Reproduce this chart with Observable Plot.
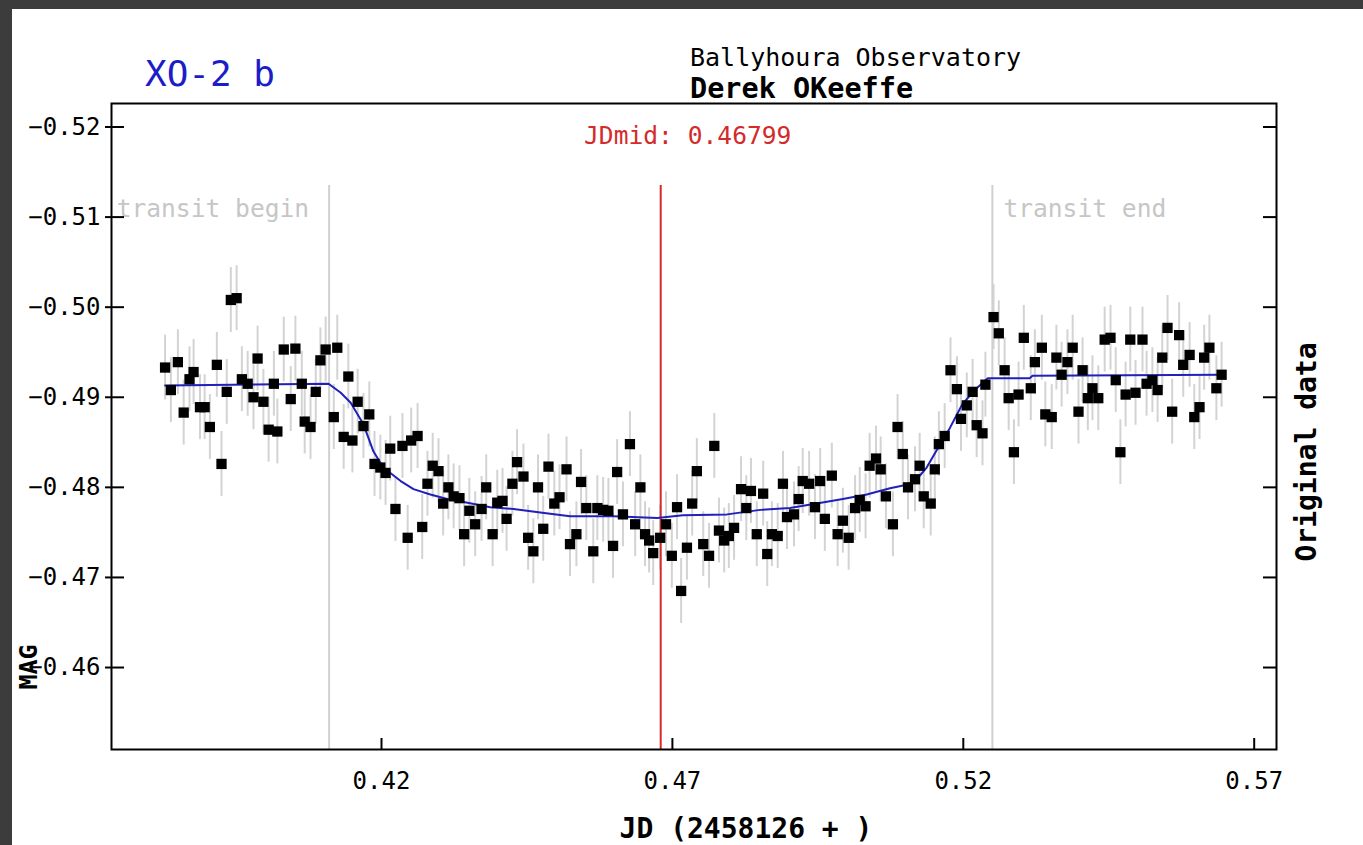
<!DOCTYPE html>
<html><head><meta charset="utf-8">
<script src="https://cdn.jsdelivr.net/npm/d3@7"></script>
<script src="https://cdn.jsdelivr.net/npm/@observablehq/plot@0.6"></script>
<style>
html,body{margin:0;padding:0;background:#fff;overflow:hidden;}
#chart{width:1363px;height:845px;}
</style></head><body><div id="chart"></div>
<script>
// observation times (JD - 2458126)
const jd = [
0.3828,0.3838,0.3850,0.3860,0.3870,0.3877,0.3888,0.3896,0.3905,0.3917,
0.3925,0.3934,0.3941,0.3951,0.3960,0.3970,0.3980,0.3987,0.3997,0.4006,
0.4015,0.4021,0.4032,0.4044,0.4052,0.4063,0.4068,0.4078,0.4087,0.4095,
0.4104,0.4118,0.4124,0.4135,0.4143,0.4150,0.4159,0.4169,0.4179,0.4188,
0.4198,0.4207,0.4215,0.4224,0.4236,0.4245,0.4251,0.4262,0.4270,0.4279,
0.4288,0.4298,0.4306,0.4315,0.4324,0.4334,0.4342,0.4351,0.4361,0.4372,
0.4380,0.4391,0.4399,0.4408,0.4415,0.4425,0.4433,0.4444,0.4452,0.4461,
0.4469,0.4478,0.4487,0.4497,0.4506,0.4518,0.4524,0.4535,0.4543,0.4552,
0.4564,0.4571,0.4581,0.4590,0.4598,0.4605,0.4615,0.4627,0.4636,0.4645,
0.4653,0.4660,0.4667,0.4679,0.4689,0.4699,0.4708,0.4715,0.4725,0.4734,
0.4742,0.4753,0.4763,0.4772,0.4780,0.4789,0.4797,0.4806,0.4818,0.4827,
0.4835,0.4845,0.4856,0.4863,0.4871,0.4881,0.4890,0.4897,0.4909,0.4917,
0.4924,0.4935,0.4945,0.4954,0.4962,0.4974,0.4984,0.4993,0.5003,0.5014,
0.5022,0.5032,0.5039,0.5050,0.5058,0.5067,0.5079,0.5087,0.5096,0.5105,
0.5117,0.5125,0.5132,0.5144,0.5151,0.5158,0.5168,0.5178,0.5189,0.5196,
0.5206,0.5216,0.5223,0.5233,0.5238,0.5252,0.5261,0.5271,0.5278,0.5287,
0.5295,0.5304,0.5316,0.5323,0.5335,0.5341,0.5352,0.5360,0.5369,0.5379,
0.5388,0.5398,0.5405,0.5414,0.5422,0.5432,0.5443,0.5453,0.5462,0.5470,
0.5479,0.5487,0.5496,0.5508,0.5515,0.5525,0.5534,0.5542,0.5551,0.5559,
0.5571,0.5578,0.5589,0.5597,0.5606,0.5614,0.5623,0.5635,0.5644];
// measured magnitudes
const mag = [
-0.4933,-0.4908,-0.4939,-0.4883,-0.4920,-0.4928,-0.4889,-0.4889,-0.4867,-0.4936,
-0.4826,-0.4906,-0.5008,-0.5010,-0.4920,-0.4915,-0.4900,-0.4943,-0.4895,-0.4864,
-0.4915,-0.4862,-0.4953,-0.4898,-0.4954,-0.4915,-0.4873,-0.4867,-0.4906,-0.4941,
-0.4953,-0.4878,-0.4955,-0.4856,-0.4923,-0.4852,-0.4895,-0.4868,-0.4881,-0.4826,
-0.4822,-0.4816,-0.4843,-0.4776,-0.4846,-0.4744,-0.4852,-0.4857,-0.4756,-0.4804,
-0.4824,-0.4818,-0.4782,-0.4800,-0.4790,-0.4788,-0.4748,-0.4774,-0.4759,-0.4776,
-0.4800,-0.4748,-0.4783,-0.4785,-0.4765,-0.4804,-0.4828,-0.4812,-0.4744,-0.4729,
-0.4800,-0.4754,-0.4823,-0.4782,-0.4789,-0.4820,-0.4737,-0.4748,-0.4806,-0.4777,
-0.4729,-0.4777,-0.4775,-0.4774,-0.4735,-0.4817,-0.4770,-0.4848,-0.4759,-0.4800,
-0.4748,-0.4741,-0.4727,-0.4744,-0.4759,-0.4724,-0.4778,-0.4685,-0.4733,-0.4782,
-0.4818,-0.4737,-0.4724,-0.4846,-0.4752,-0.4741,-0.4746,-0.4755,-0.4798,-0.4777,
-0.4796,-0.4748,-0.4793,-0.4726,-0.4748,-0.4746,-0.4804,-0.4767,-0.4770,-0.4787,
-0.4807,-0.4804,-0.4778,-0.4807,-0.4765,-0.4813,-0.4748,-0.4763,-0.4744,-0.4777,
-0.4786,-0.4779,-0.4824,-0.4832,-0.4820,-0.4790,-0.4759,-0.4867,-0.4837,-0.4800,
-0.4809,-0.4824,-0.4790,-0.4782,-0.4820,-0.4848,-0.4857,-0.4930,-0.4909,-0.4876,
-0.4891,-0.4906,-0.4869,-0.4860,-0.4914,-0.4989,-0.4971,-0.4930,-0.4899,-0.4839,
-0.4903,-0.4966,-0.4910,-0.4939,-0.4955,-0.4881,-0.4878,-0.4944,-0.4925,-0.4939,
-0.4955,-0.4884,-0.4930,-0.4899,-0.4910,-0.4899,-0.4964,-0.4966,-0.4919,-0.4839,
-0.4903,-0.4964,-0.4905,-0.4964,-0.4915,-0.4919,-0.4908,-0.4944,-0.4977,-0.4884,
-0.4969,-0.4936,-0.4947,-0.4878,-0.4889,-0.4944,-0.4955,-0.4910,-0.4925];
const magErr = 0.0036;
// fitted transit model
const modelJd = [0.3828,0.4109,0.4130,0.4147,0.4169,0.4186,0.4203,0.4233,0.4255,0.4284,0.4313,0.4348,0.4387,0.4427,0.4473,0.4524,0.4598,0.4674,0.4718,0.4794,0.4851,0.4902,0.4948,0.4993,0.5034,0.5074,0.5103,0.5120,0.5137,0.5154,0.5177,0.5199,0.5223,0.5242,0.5314,0.5319,0.5644];
const modelMag = [-0.4913,-0.4915,-0.4905,-0.4894,-0.4870,-0.4840,-0.4822,-0.4807,-0.4798,-0.4792,-0.4787,-0.4783,-0.4778,-0.4776,-0.4772,-0.4768,-0.4768,-0.4766,-0.4769,-0.4770,-0.4775,-0.4777,-0.4782,-0.4787,-0.4792,-0.4799,-0.4803,-0.4809,-0.4822,-0.4841,-0.4866,-0.4893,-0.4910,-0.4921,-0.4921,-0.4924,-0.4925];
const transitBegin = 0.4110, transitEnd = 0.5250, jdMid = 0.46799;
const xTicks = [0.42, 0.47, 0.52, 0.57];
const yTicks = [-0.52, -0.51, -0.50, -0.49, -0.48, -0.47, -0.46];

const points = jd.map((x, i) => ({x, y: mag[i]}));
const model = modelJd.map((x, i) => ({x, y: modelMag[i]}));

const W = 1363, H = 845, L = 111, R = 1276, T = 103, B = 749;
const PW = R - L, PH = B - T;
const FONT = "DejaVu Sans Mono";
const fmt = d3.format(".2f");

const plot = Plot.plot({
  width: W, height: H,
  marginLeft: L, marginRight: W - R, marginTop: T, marginBottom: H - B,
  style: {fontFamily: FONT, fontSize: "24px", background: "white", color: "black", overflow: "visible"},
  x: {domain: [0.373592, 0.573833]},
  y: {domain: [-0.52261, -0.45090], reverse: true},
  marks: [
    Plot.ruleX(points, {x: "x", y1: d => d.y - magErr, y2: d => d.y + magErr, stroke: "#d3d3d3", strokeWidth: 2}),
    Plot.ruleX([transitBegin, transitEnd], {stroke: "#d0d0d0", strokeWidth: 2, insetTop: 82}),
    Plot.ruleX([jdMid], {stroke: "#d42a2a", strokeWidth: 2, insetTop: 82}),
    Plot.line(model, {x: "x", y: "y", stroke: "#2020bb", strokeWidth: 2}),
    Plot.dot(points, {x: "x", y: "y", symbol: "square", r: 5.8, fill: "black", stroke: null}),
    Plot.text([{x: transitBegin, t: "transit begin"}], {x: "x", text: "t", frameAnchor: "top", dy: 113, dx: -20, textAnchor: "end", lineAnchor: "bottom", fill: "#c6c6c6", fontSize: 24.6}),
    Plot.text([{x: transitEnd, t: "transit end"}], {x: "x", text: "t", frameAnchor: "top", dy: 113, dx: 11, textAnchor: "start", lineAnchor: "bottom", fill: "#c6c6c6", fontSize: 24.6}),
    Plot.text([{x: jdMid, t: "JDmid: " + jdMid.toFixed(5)}], {x: "x", text: "t", frameAnchor: "top", dy: 40, dx: 27, textAnchor: "middle", lineAnchor: "bottom", fill: "#d42a2a", fontSize: 24.6}),
    Plot.tickY(yTicks, {y: d => d, insetLeft: -6, insetRight: PW - 13, stroke: "black", strokeWidth: 2}),
    Plot.tickY(yTicks, {y: d => d, insetLeft: PW - 13, stroke: "black", strokeWidth: 2}),
    Plot.tickX(xTicks, {x: d => d, insetTop: PH - 11, stroke: "black", strokeWidth: 2}),
    Plot.axisY(yTicks, {anchor: "left", tickSize: 0, tickPadding: 11, tickFormat: fmt, fontSize: 24, label: null}),
    Plot.axisX(xTicks, {anchor: "bottom", tickSize: 0, tickPadding: 22, tickFormat: fmt, fontSize: 24, label: null}),
    Plot.frame({stroke: "black", strokeWidth: 2})
  ]
});

const svg = d3.select(plot);
const dark = "#3c3c3c";
svg.append("rect").attr("x", 0).attr("y", 0).attr("width", W).attr("height", 9).attr("fill", dark);
svg.append("rect").attr("x", 0).attr("y", 0).attr("width", 12).attr("height", H).attr("fill", dark);

function label(x, y, txt, opts = {}) {
  const t = svg.append("text")
    .attr("x", x).attr("y", y)
    .attr("font-family", FONT)
    .attr("font-size", opts.size || 24)
    .attr("font-weight", opts.bold ? "bold" : "normal")
    .attr("fill", opts.fill || "black")
    .attr("text-anchor", opts.anchor || "start")
    .text(txt);
  if (opts.rotate) t.attr("transform", `rotate(-90, ${x}, ${y})`);
  return t;
}
label(145, 86, "XO-2 b", {size: 36, fill: "#1c1cc8"});
label(690, 66, "Ballyhoura Observatory", {size: 25});
label(690, 98, "Derek OKeeffe", {size: 28.5, bold: true});
label(746, 838, "JD (2458126 + )", {size: 28, bold: true, anchor: "middle"});
label(37, 667, "MAG", {size: 25, bold: true, anchor: "middle", rotate: true});
label(1316, 452, "Original data", {size: 28, bold: true, anchor: "middle", rotate: true});

document.getElementById("chart").appendChild(plot);
</script>
</body></html>
